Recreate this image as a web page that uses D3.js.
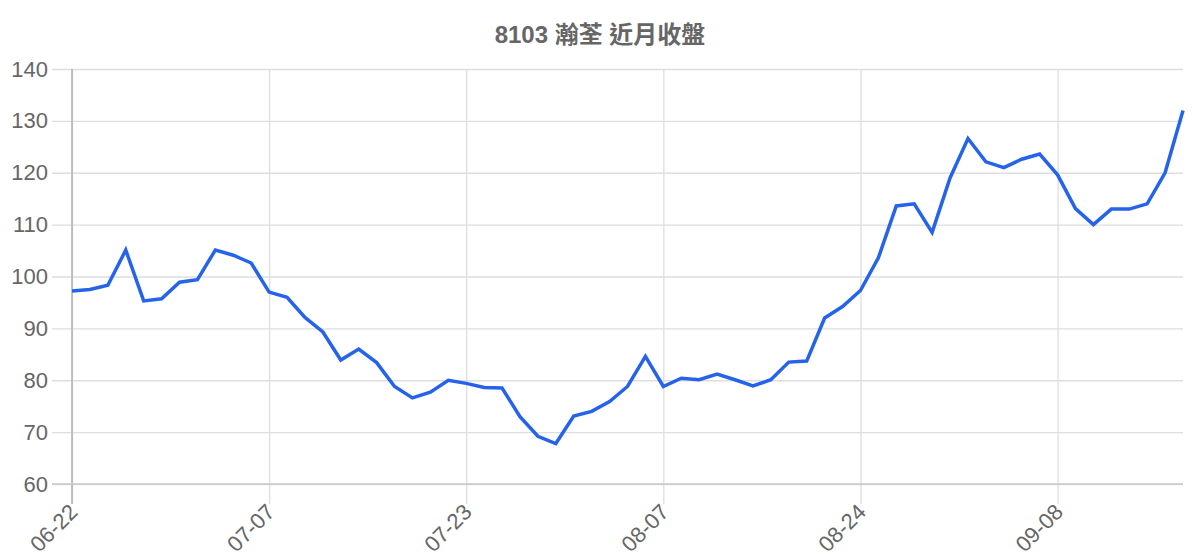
<!DOCTYPE html>
<html>
<head>
<meta charset="utf-8">
<script src="https://cdn.jsdelivr.net/npm/d3@7"></script>
<style>
  html, body { margin: 0; padding: 0; background: #fff; }
  #chart { width: 1200px; height: 560px; }
  text { font-family: "Liberation Sans", Arial, "Noto Sans CJK TC", sans-serif; }
</style>
</head>
<body>
<div id="chart"></div>
<script>
// 8103 near-month close, trading days
const dates = [
  "06-22", "06-23", "06-24", "06-25", "06-26", "06-29", "06-30", "07-01", "07-02", "07-03",
  "07-06", "07-07", "07-08", "07-09", "07-10", "07-13", "07-14", "07-15", "07-16", "07-17",
  "07-20", "07-21", "07-23", "07-24", "07-27", "07-28", "07-29", "07-30", "07-31", "08-03",
  "08-04", "08-05", "08-06", "08-07", "08-10", "08-11", "08-12", "08-13", "08-14", "08-17",
  "08-18", "08-19", "08-20", "08-21", "08-24", "08-25", "08-26", "08-27", "08-28", "08-31",
  "09-01", "09-02", "09-03", "09-04", "09-07", "09-08", "09-09", "09-10", "09-11", "09-14",
  "09-15", "09-16", "09-17"
];
const closes = [
  97.2, 97.5, 98.3, 105.1, 95.3, 95.7, 98.9, 99.4, 105.1, 104.1,
  102.6, 97.0, 96.0, 92.1, 89.3, 83.9, 86.0, 83.4, 78.8, 76.6,
  77.7, 80.0, 79.4, 78.6, 78.5, 73.0, 69.2, 67.8, 73.1, 74.0,
  75.9, 78.8, 84.6, 78.8, 80.4, 80.1, 81.2, 80.1, 78.9, 80.1,
  83.5, 83.7, 92.0, 94.2, 97.3, 103.6, 113.6, 114.0, 108.5, 119.0,
  126.6, 122.1, 121.0, 122.6, 123.6, 119.6, 113.1, 110.0, 113.0, 113.0,
  114.0, 120.0, 132.0
];
const xTickLabels = ["06-22", "07-07", "07-23", "08-07", "08-24", "09-08"];
const yTickValues = [60, 70, 80, 90, 100, 110, 120, 130, 140];
const chartTitle = "8103 瀚荃 近月收盤";

(function () {
  const width = 1200;
  const height = 560;
  const left = 72, right = 1183, top = 69, bottom = 484;
  const tickOut = 20;
  const gridColor = "#dedede";

  const svg = d3.select("#chart")
    .append("svg")
    .attr("width", width)
    .attr("height", height);

  const x = d3.scalePoint().domain(dates).range([left, right]);
  const y = d3.scaleLinear().domain([60, 140]).range([bottom, top]);

  // horizontal grid + y labels
  const yAxis = svg.append("g")
    .attr("transform", `translate(${right},0)`)
    .call(d3.axisLeft(y).tickValues(yTickValues).tickSize(right - left + tickOut).tickPadding(4));
  yAxis.select(".domain").remove();
  yAxis.selectAll(".tick line").attr("stroke", gridColor).attr("stroke-width", 1.3);
  yAxis.selectAll(".tick text")
    .attr("fill", "#666")
    .style("font-size", "22px");

  // vertical grid + x labels
  const xAxis = svg.append("g")
    .attr("transform", `translate(0,${top})`)
    .call(d3.axisBottom(x).tickValues(xTickLabels).tickSize(bottom - top + tickOut).tickFormat(d => d));
  xAxis.select(".domain").remove();
  xAxis.selectAll(".tick line").attr("stroke", gridColor).attr("stroke-width", 1.3);
  xAxis.selectAll(".tick text")
    .attr("fill", "#666")
    .style("font-size", "22px")
    .attr("text-anchor", "end")
    .attr("dy", "0.35em")
    .attr("transform", `translate(1,${bottom - top + tickOut + 4}) rotate(-45)`)
    .attr("y", 0)
    .attr("x", 0);

  // axis borders
  svg.append("line")
    .attr("x1", left).attr("x2", left)
    .attr("y1", top).attr("y2", bottom + tickOut)
    .attr("stroke", "#b0b0b0").attr("stroke-width", 1.5);
  svg.append("line")
    .attr("x1", left - tickOut).attr("x2", right)
    .attr("y1", bottom).attr("y2", bottom)
    .attr("stroke", "#c8c8c8").attr("stroke-width", 1.5);

  const line = d3.line()
    .x((d, i) => x(dates[i]))
    .y(d => y(d));

  svg.append("path")
    .datum(closes)
    .attr("d", line)
    .attr("fill", "none")
    .attr("stroke", "#2563eb")
    .attr("stroke-width", 3.5)
    .attr("stroke-linejoin", "miter");

  svg.append("text")
    .attr("x", width / 2)
    .attr("y", 43)
    .attr("text-anchor", "middle")
    .attr("fill", "#666")
    .style("font-size", "24px")
    .style("font-weight", "bold")
    .text(chartTitle);
})();
</script>
</body>
</html>
